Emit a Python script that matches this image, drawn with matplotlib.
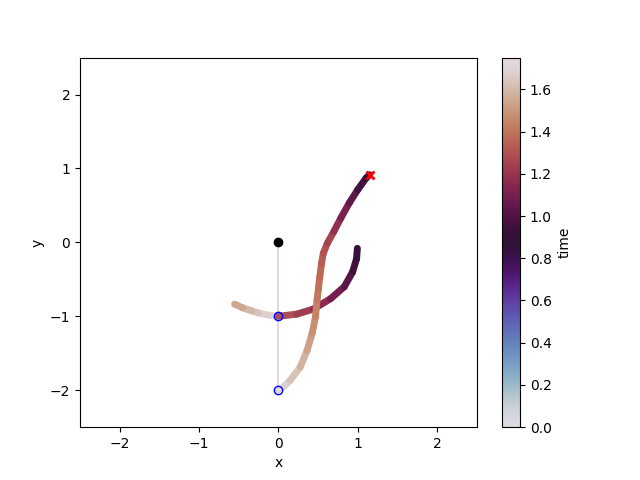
import numpy as np
import matplotlib
matplotlib.use('Agg')
import matplotlib.pyplot as plt
from matplotlib.collections import LineCollection
from matplotlib.colors import Normalize

# outer mass path (visible part)
x2 = [0.0, 0.07, 0.149, 0.276, 0.362, 0.425, 0.467, 0.487, 0.505, 0.522, 0.544,
      0.566, 0.617, 0.70, 0.786, 0.892, 0.999, 1.105, 1.15]
y2 = [-2.0, -1.95, -1.866, -1.685, -1.459, -1.232, -1.007, -0.78, -0.62, -0.464, -0.28,
      -0.147, -0.011, 0.15, 0.328, 0.532, 0.712, 0.871, 0.915]
t2 = [1.73, 1.70, 1.66, 1.60, 1.55, 1.50, 1.46, 1.42, 1.40, 1.38, 1.35,
      1.32, 1.28, 1.22, 1.15, 1.08, 1.00, 0.93, 0.90]

# inner mass path, right branch and left branch
x1r = [0.0, 0.234, 0.446, 0.659, 0.83, 0.935, 0.985, 0.995]
y1r = [-1.0, -0.97, -0.90, -0.76, -0.60, -0.40, -0.22, -0.08]
t1r = [1.32, 1.26, 1.20, 1.13, 1.06, 0.99, 0.93, 0.90]

x1l = [0.0, -0.127, -0.25, -0.339, -0.45, -0.552]
y1l = [-1.0, -0.984, -0.955, -0.925, -0.885, -0.835]
t1l = [1.73, 1.70, 1.66, 1.62, 1.57, 1.52]

# initial configuration and final point
rod_x = [0, 0, 0]
rod_y = [0, -1, -2]
end_x, end_y = 1.15, 0.915

norm = Normalize(vmin=0, vmax=1.75)
cmap = plt.get_cmap('twilight')


def path_collection(xs, ys, ts):
    pts = np.column_stack([xs, ys])
    segs = np.stack([pts[:-1], pts[1:]], axis=1)
    lc = LineCollection(segs, cmap=cmap, norm=norm, linewidths=5, capstyle='round', joinstyle='round')
    ts = np.asarray(ts)
    lc.set_array((ts[:-1] + ts[1:]) / 2)
    return lc


fig, ax = plt.subplots(figsize=(6.4, 4.8), dpi=100)

ax.plot(rod_x, rod_y, '-', color='#e0d8e4', lw=1.5, zorder=1)

lc1l = path_collection(x1l, y1l, t1l)
lc1r = path_collection(x1r, y1r, t1r)
lc2 = path_collection(x2, y2, t2)
ax.add_collection(lc1l)
ax.add_collection(lc1r)
ax.add_collection(lc2)

ax.plot(0, 0, 'o', color='black', ms=6, zorder=4)
ax.plot(rod_x[1:], rod_y[1:], 'o', mfc='none', mec='blue', ms=6, zorder=4)
ax.plot(end_x, end_y, 'x', color='red', ms=6, mew=2, zorder=5)

ax.set_xlim(-2.5, 2.5)
ax.set_ylim(-2.5, 2.5)
ax.set_xlabel('x')
ax.set_ylabel('y')

cb = fig.colorbar(lc2, ax=ax)
cb.set_label('time')

plt.savefig('out.png')
